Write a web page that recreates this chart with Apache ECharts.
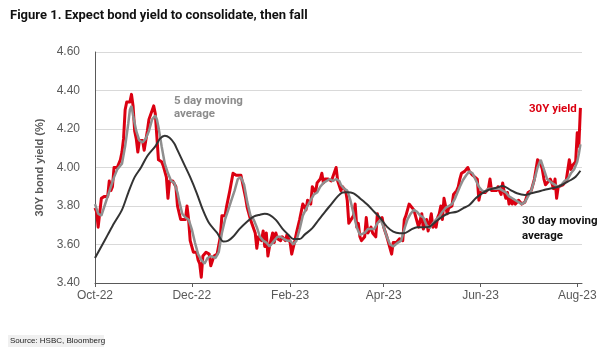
<!DOCTYPE html>
<html><head><meta charset="utf-8">
<script src="https://cdn.jsdelivr.net/npm/echarts@6/dist/echarts.min.js"></script>
<style>html,body{margin:0;padding:0;background:#fff}#c{width:610px;height:360px}</style>
</head><body><div id="c"></div>
<script>
// Day offsets are counted from startDate
const startDate = '2022-10-01';
const endDate = '2023-08-04';
const tickDates = ['2022-10-01','2022-12-01','2023-02-01','2023-04-01','2023-06-01','2023-08-01'];
const tickLabels = ['Oct-22','Dec-22','Feb-23','Apr-23','Jun-23','Aug-23'];
const yTicks = [3.4, 4.6, 0.2]; // min, max, step

// 30Y yield
const yieldDays = [0,1,2,3,4,5,6,8,9,10,11,12,14,16,17,18,19,20,22,23,24,25,26,27,28,30,31,33,34,35,37,38,39,40,42,43,45,46,47,49,51,52,54,57,58,59,60,62,64,65,66,67,68,70,72,73,75,77,79,80,82,83,85,87,89,92,93,95,96,98,99,101,102,103,105,106,107,108,109,110,112,113,114,115,117,118,120,121,123,124,126,127,129,131,133,134,136,137,139,140,142,143,144,145,147,149,150,152,153,155,156,158,159,160,161,163,164,165,166,167,168,170,171,172,174,175,177,178,179,181,182,184,185,187,188,190,192,194,195,196,198,199,201,202,204,206,207,209,210,211,212,213,214,215,216,217,218,219,220,222,223,225,226,228,229,230,231,233,235,236,238,239,241,242,243,244,246,248,249,250,251,253,254,255,256,257,258,259,260,261,262,263,264,265,267,269,271,273,274,275,276,277,279,280,281,282,283,284,285,287,288,289,290,291,292,293,295,296,297,298,299,300,301,302,303,304,305,306];
const yieldVals = [3.79,3.77,3.69,3.70,3.84,3.83,3.85,3.85,3.93,3.88,3.90,4.00,4.00,4.04,4.08,4.15,4.30,4.34,4.34,4.38,4.32,4.19,4.15,4.08,4.14,4.14,4.09,4.19,4.25,4.25,4.32,4.28,4.16,4.04,4.03,4.01,3.95,3.84,3.93,3.93,3.90,3.80,3.73,3.73,3.80,3.73,3.62,3.56,3.56,3.52,3.50,3.43,3.54,3.56,3.55,3.49,3.54,3.55,3.64,3.75,3.75,3.80,3.88,3.97,3.96,3.96,3.95,3.84,3.79,3.73,3.72,3.66,3.58,3.64,3.62,3.67,3.59,3.66,3.54,3.59,3.66,3.61,3.66,3.63,3.62,3.64,3.62,3.65,3.61,3.55,3.62,3.66,3.73,3.81,3.78,3.83,3.81,3.90,3.87,3.92,3.94,3.97,3.92,3.94,3.94,3.93,3.94,4.00,3.93,3.88,3.90,3.88,3.83,3.71,3.71,3.75,3.81,3.69,3.71,3.64,3.62,3.64,3.74,3.66,3.69,3.66,3.64,3.76,3.72,3.74,3.69,3.64,3.61,3.55,3.61,3.61,3.63,3.62,3.73,3.75,3.81,3.80,3.78,3.78,3.69,3.76,3.68,3.73,3.67,3.67,3.76,3.69,3.71,3.69,3.74,3.76,3.80,3.73,3.84,3.76,3.79,3.80,3.86,3.88,3.90,3.94,3.97,3.98,4.00,3.98,3.96,3.96,3.94,3.83,3.87,3.88,3.87,3.89,3.94,3.88,3.87,3.88,3.90,3.88,3.86,3.92,3.87,3.84,3.87,3.81,3.84,3.81,3.83,3.81,3.83,3.81,3.82,3.87,3.86,3.88,3.89,3.94,4.04,4.05,4.02,3.99,3.94,3.91,3.92,3.94,3.92,3.89,3.94,3.84,3.90,3.90,3.91,3.92,3.93,3.94,4.04,3.99,4.01,4.00,4.03,4.18,4.11,4.31];

// 5 day moving average
const ma5Days = [0,2,4,6,8,10,12,14,17,19,21,22,23,24,26,28,30,32,34,36,38,39,40,42,44,46,48,50,52,53,55,57,59,61,63,65,67,69,71,73,76,78,80,82,84,86,88,90,92,94,96,98,100,102,104,106,108,110,113,115,117,119,121,123,125,127,129,131,134,136,138,140,142,144,146,148,150,152,154,155,157,159,161,163,165,167,170,172,174,176,178,180,182,184,186,188,191,193,195,197,199,201,203,205,207,209,211,213,215,217,219,221,223,225,227,230,232,234,236,238,240,242,244,246,248,251,253,255,257,259,261,263,265,267,269,271,273,275,277,279,281,283,285,288,290,292,294,296,298,300,302,304,305,306];
const ma5Vals = [3.81,3.76,3.75,3.80,3.85,3.90,3.95,3.99,4.02,4.11,4.23,4.30,4.32,4.27,4.19,4.14,4.13,4.15,4.19,4.25,4.27,4.25,4.21,4.11,4.02,3.97,3.93,3.92,3.87,3.83,3.76,3.74,3.73,3.68,3.61,3.55,3.52,3.50,3.53,3.54,3.53,3.56,3.66,3.73,3.78,3.83,3.88,3.94,3.95,3.91,3.82,3.75,3.73,3.69,3.64,3.62,3.61,3.59,3.62,3.64,3.64,3.63,3.62,3.62,3.60,3.62,3.68,3.75,3.80,3.83,3.86,3.87,3.90,3.92,3.93,3.94,3.93,3.94,3.93,3.91,3.89,3.88,3.83,3.76,3.69,3.65,3.66,3.68,3.68,3.68,3.71,3.73,3.69,3.64,3.60,3.59,3.61,3.62,3.68,3.73,3.76,3.78,3.77,3.75,3.74,3.70,3.685,3.71,3.73,3.745,3.77,3.79,3.80,3.81,3.84,3.90,3.935,3.96,3.98,3.97,3.935,3.90,3.88,3.874,3.89,3.89,3.89,3.89,3.88,3.87,3.85,3.84,3.83,3.82,3.81,3.82,3.85,3.88,3.935,4.00,4.04,3.99,3.94,3.92,3.91,3.90,3.91,3.93,3.94,3.97,3.99,4.03,4.07,4.12];

// 30 day moving average
const ma30Days = [0,4,8,12,17,21,25,29,33,38,41,44,47,50,52,56,60,64,68,72,77,81,84,87,91,96,100,104,107,110,114,118,122,125,129,132,137,141,145,149,153,156,159,163,167,172,176,180,184,188,192,195,199,203,207,211,215,219,223,228,232,236,240,244,248,253,257,262,266,271,275,279,283,288,292,296,300,303,306];
const ma30Vals = [3.53,3.59,3.65,3.71,3.78,3.87,3.95,4.00,4.06,4.11,4.15,4.165,4.155,4.125,4.09,4.02,3.95,3.87,3.78,3.71,3.66,3.615,3.62,3.64,3.68,3.72,3.745,3.755,3.76,3.754,3.728,3.684,3.65,3.628,3.628,3.65,3.685,3.728,3.77,3.81,3.85,3.87,3.872,3.866,3.84,3.805,3.77,3.736,3.693,3.667,3.659,3.659,3.676,3.69,3.69,3.693,3.72,3.745,3.762,3.77,3.788,3.805,3.84,3.866,3.883,3.895,3.904,3.883,3.866,3.857,3.866,3.874,3.883,3.892,3.90,3.918,3.935,3.952,3.983];

const DAY = 86400000;
const t0 = Date.parse(startDate);
const dayOf = s => Math.round((Date.parse(s) - t0) / DAY);
function pts(days, vals) { return days.map((d, i) => [d, vals[i]]); }
const tickDays = tickDates.map(dayOf);
function labelFor(v) {
  let best = 0;
  tickDays.forEach((t, i) => { if (Math.abs(t - v) < Math.abs(tickDays[best] - v)) best = i; });
  return tickLabels[best];
}

const chart = echarts.init(document.getElementById('c'), null, {renderer: 'canvas'});
const axisColor = '#595959';
const annFont = '"Liberation Sans Narrow", Roboto, sans-serif';
chart.setOption({
  animation: false,
  backgroundColor: '#ffffff',
  textStyle: {fontFamily: 'Liberation Sans'},
  grid: {left: 95, right: 28, top: 52, bottom: 77, containLabel: false},
  xAxis: {
    type: 'value',
    min: 0,
    max: dayOf(endDate),
    splitLine: {show: false},
    axisLine: {show: true, onZero: false, lineStyle: {color: axisColor, width: 1}},
    axisTick: {show: true, length: 4, inside: false, customValues: tickDays, lineStyle: {color: axisColor}},
    axisLabel: {customValues: tickDays, formatter: v => labelFor(v), color: axisColor, fontSize: 12, margin: 7, hideOverlap: false, showMinLabel: true, showMaxLabel: true}
  },
  yAxis: {
    type: 'value',
    min: yTicks[0], max: yTicks[1], interval: yTicks[2],
    name: '30Y bond yield (%)',
    nameLocation: 'middle',
    nameGap: 43,
    nameRotate: 90,
    nameTextStyle: {color: axisColor, fontSize: 11, fontWeight: 'bold', fontFamily: 'Liberation Sans'},
    axisLine: {show: true, lineStyle: {color: axisColor, width: 1}},
    axisTick: {show: false},
    axisLabel: {formatter: v => v.toFixed(2), color: axisColor, fontSize: 12, margin: 15},
    splitLine: {show: true, lineStyle: {color: '#d9d9d9', width: 1}}
  },
  series: [
    {name: '30Y yield', type: 'line', data: pts(yieldDays, yieldVals), showSymbol: false, symbol: 'none',
     lineStyle: {color: '#db0011', width: 3, join: 'round'}, z: 2},
    {name: '5 day moving average', type: 'line', data: pts(ma5Days, ma5Vals), showSymbol: false, symbol: 'none',
     lineStyle: {color: '#8f8f8f', width: 2.5}, z: 3},
    {name: '30 day moving average', type: 'line', data: pts(ma30Days, ma30Vals), showSymbol: false, symbol: 'none', smooth: 0.3,
     lineStyle: {color: '#333333', width: 2}, z: 4}
  ],
  graphic: [
    {type: 'text', left: 10, top: 9, style: {text: 'Figure 1. Expect bond yield to consolidate, then fall', fontFamily: annFont, fontWeight: 'bold', fontSize: 13, fill: '#111'}},
    {type: 'text', left: 174, top: 95, style: {text: '5 day moving\naverage', fontFamily: annFont, fontWeight: 'bold', fontSize: 11.5, fill: '#8c8c8c', lineHeight: 13}},
    {type: 'text', left: 529, top: 103, style: {text: '30Y yield', fontFamily: annFont, fontWeight: 'bold', fontSize: 11.5, fill: '#db0011'}},
    {type: 'text', left: 522, top: 214, style: {text: '30 day moving\naverage', fontFamily: annFont, fontWeight: 'bold', fontSize: 11.5, fill: '#111', lineHeight: 15}},
    {type: 'rect', left: 8, top: 335, shape: {width: 96, height: 12}, style: {fill: '#f0f0f0'}, z: 0},
    {type: 'text', left: 10, top: 337, style: {text: 'Source: HSBC, Bloomberg', fontFamily: 'Liberation Sans', fontSize: 8, fill: '#222'}, z: 1}
  ]
});
</script></body></html>
